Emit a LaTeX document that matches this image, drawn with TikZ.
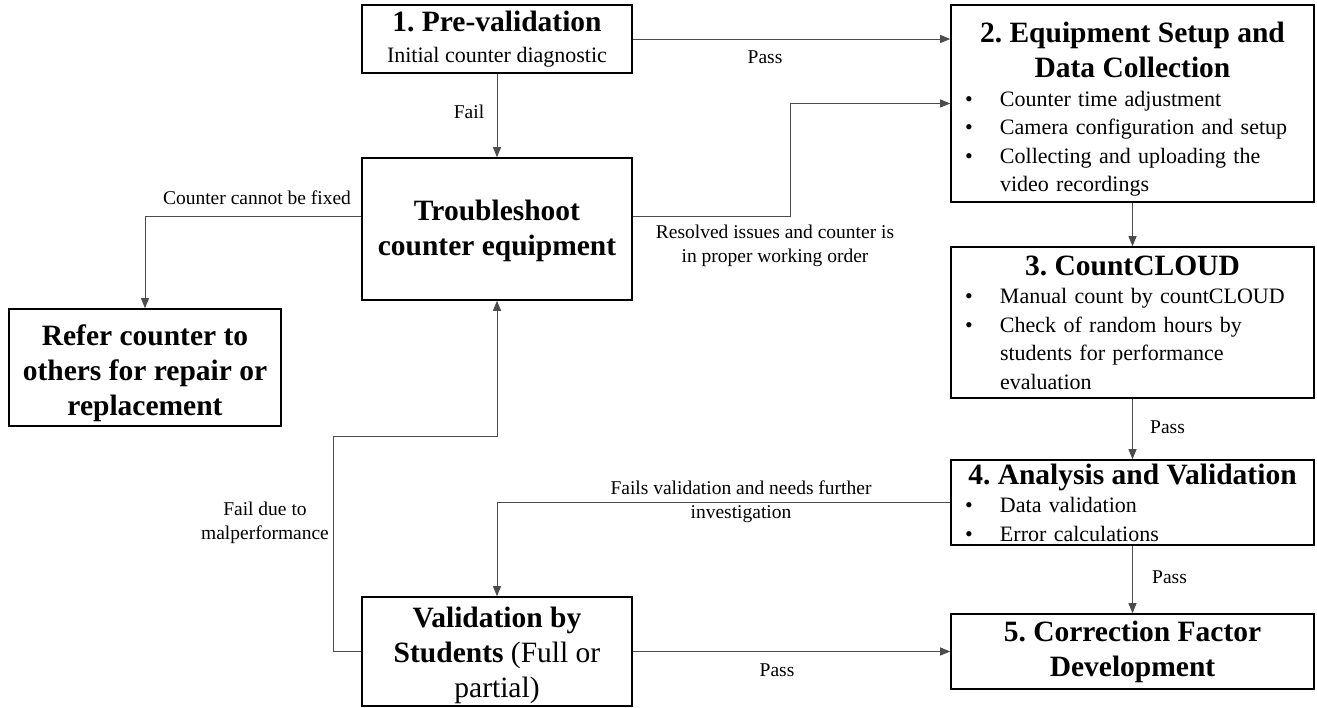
\documentclass[tikz,border=0pt]{standalone}
\usepackage{fontspec}
\setmainfont{Liberation Serif}
\usetikzlibrary{arrows.meta}
\frenchspacing

\newcommand\ttlfont{\fontsize{29.5}{35}\selectfont\bfseries}
\newcommand\txtfont{\fontsize{22}{28.5}\selectfont}
\newcommand\lblfont{\fontsize{19.5}{24}\selectfont}
\newcommand\bitem[1]{\par\noindent\makebox[36pt][l]{\hspace{1pt}\textbullet}\parbox[t]{301pt}{\raggedright #1}}

\tikzset{
  stage/.style={draw, line width=1.6pt, inner xsep=8pt, inner ysep=3pt, text width=#1, align=flush center, font=\txtfont},
  listbox/.style={draw, line width=1.6pt, inner xsep=13pt, inner ysep=3pt, text width=#1, font=\txtfont},
  flow/.style={draw=black!70, line width=0.9pt, -{Triangle[length=10pt,width=8pt]}},
  lbl/.style={font=\lblfont, align=flush center, inner sep=0pt}
}

\begin{document}
\begin{tikzpicture}[x=1pt, y=-1pt]
    \useasboundingbox (0,0) rectangle (1317,708);
    \node [stage=254pt, minimum height=68pt] (pre) at (497,39) {{\ttlfont 1. Pre-validation}\\[2pt]Initial counter diagnostic};
    \node [stage=254pt, minimum height=142pt, font=\ttlfont] (trouble) at (497,229) {\rule{0pt}{24pt}Troubleshoot\\counter equipment};
    \node [stage=256pt, minimum height=117pt, font=\ttlfont] (refer) at (145,367.5) {\rule{0pt}{33pt}Refer counter to\\others for repair or\\replacement};
    \node [stage=254pt, minimum height=109pt, inner ysep=0.5pt, font=\ttlfont] (valid) at (497,651.5) {\rule{0pt}{28pt}Validation by\\Students {\mdseries(Full or}\\{\mdseries partial)}};

    \node [listbox=337pt, minimum height=197pt] (setup) at (1132.5,103.5) {{\centering\ttlfont\rule{0pt}{32pt}2. Equipment Setup and\\Data Collection\par}
        \bitem{Counter time adjustment}\bitem{Camera configuration and setup}\bitem{Collecting and uploading the\\video recordings}};
    \node [listbox=337pt, minimum height=151pt] (cloud) at (1132.5,322.5) {{\centering\ttlfont 3. CountCLOUD\par}
        \bitem{Manual count by countCLOUD}\bitem{Check of random hours by\\students for performance\\evaluation}};
    \node [listbox=337pt, minimum height=85pt] (analysis) at (1132.5,502.5) {{\centering\ttlfont 4. Analysis and Validation\par}
        \bitem{Data validation}\bitem{Error calculations}};
    \node [stage=347pt, minimum height=75pt, font=\ttlfont] (corr) at (1132.5,651.5) {5. Correction Factor\\Development};

    \node [lbl] (pass1) at (765,57) {Pass};
    \node [lbl] (fail1) at (469,112) {Fail};
    \node [lbl] (nofix) at (257,198) {Counter cannot be fixed};
    \node [lbl] (fixed) at (775,246) {Resolved issues and counter is\\in proper working order};
    \node [lbl, anchor=west] (pass2) at (1150,427) {Pass};
    \node [lbl] (needs) at (741,502) {Fails validation and needs further\\investigation};
    \node [lbl, anchor=west] (pass3) at (1152,577) {Pass};
    \node [lbl] (malperf) at (265,523) {Fail due to\\malperformance};
    \node [lbl] (pass4) at (777,670) {Pass};

    \coordinate (back) at (333,436);
    \draw [flow] (pre.east) -- (pre.east -| setup.west);
    \draw [flow] (pre.south) -- (trouble.north);
    \draw [flow] ([yshift=13pt]trouble.east) -- ++(158,0) |- (setup.west);
    \draw [flow] ([yshift=13pt]trouble.west) -| (refer.north);
    \draw [flow] (setup.south) -- (cloud.north);
    \draw [flow] (cloud.south) -- (analysis.north);
    \draw [flow] (analysis.south) -- (corr.north);
    \draw [flow] (analysis.west) -| (valid.north);
    \draw [flow] (valid.east) -- (corr.west);
    \draw [flow] (valid.west) -| (back) -| (trouble.south);
\end{tikzpicture}
\end{document}
